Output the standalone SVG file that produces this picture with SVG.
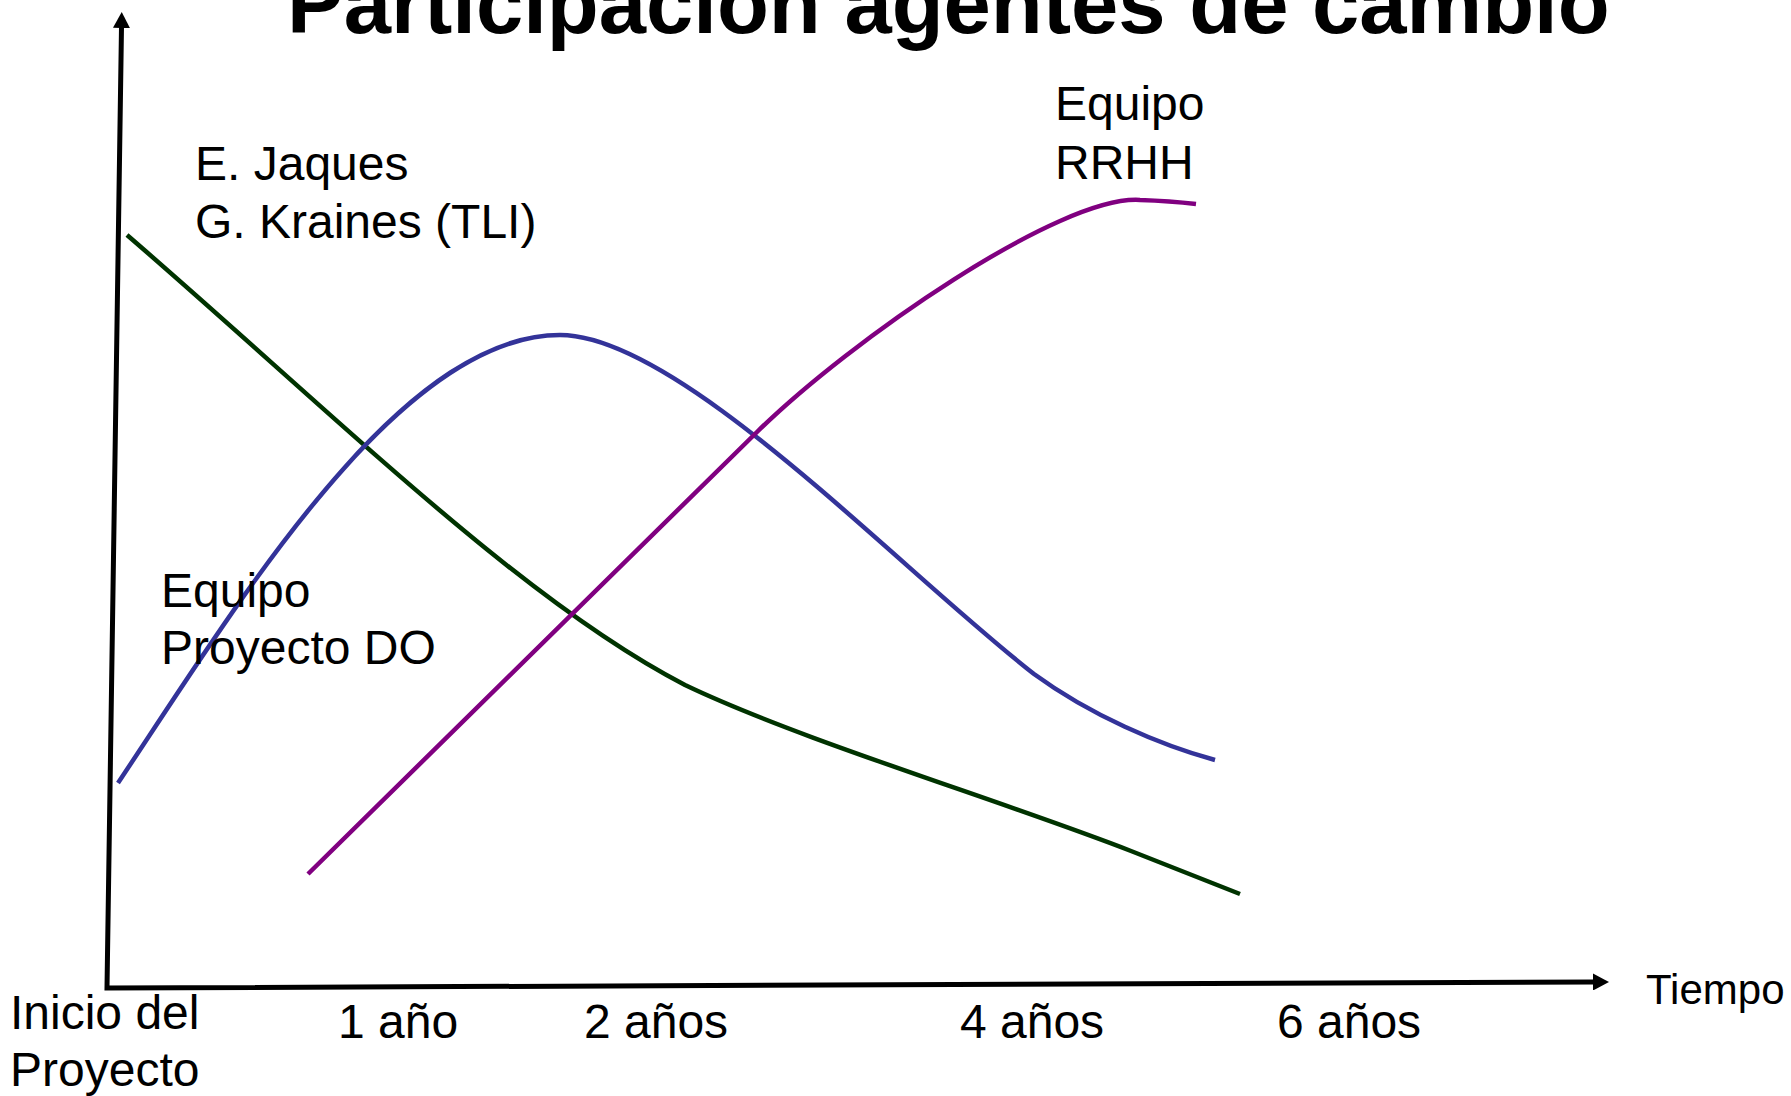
<svg xmlns="http://www.w3.org/2000/svg" width="1791" height="1096" viewBox="0 0 1791 1096">
  <style>
    text { font-family: "Liberation Sans", Arial, sans-serif; fill: #000; }
    .title { font-size: 85px; font-weight: bold; }
    .lbl { font-size: 48px; }
    .small { font-size: 42px; }
    .axis { fill: none; stroke: #000; stroke-width: 5; stroke-linejoin: miter; }
    .curve { fill: none; stroke-width: 4.5; stroke-linecap: butt; }
  </style>
  <defs>
    <marker id="arrow" viewBox="0 0 16 17" refX="1" refY="8.5" markerWidth="16" markerHeight="17" markerUnits="userSpaceOnUse" orient="auto-start-reverse">
      <path d="M0,0 L16,8.5 L0,17 z" fill="#000"/>
    </marker>
  </defs>
  <rect width="1791" height="1096" fill="#fff"/>

  <g id="title">
    <text class="title" x="287" y="33">Participación agentes de cambio</text>
  </g>

  <g id="axes">
    <path class="axis" d="M121.5,27 L107,988 L1594,982" marker-start="url(#arrow)" marker-end="url(#arrow)"/>
  </g>

  <g id="connectors">
    <path id="curve-tli" class="curve" stroke="#003300" d="M127,235 C330,410 520,600 685,685 C800,740 1000,800 1131,851 L1240,894"/>
    <path id="curve-do" class="curve" stroke="#333399" d="M118,783 C240,600 400,335 560,335 C680,335 900,570 1034,674 C1090,715 1160,745 1215,760"/>
    <path id="curve-rrhh" class="curve" stroke="#800080" d="M308,874 L757,432 C850,340.5 1060,195 1140,200 Q1170,201 1196,204"/>
  </g>

  <g id="label-tli">
    <text class="lbl" x="195" y="180">E. Jaques</text>
    <text class="lbl" x="195" y="238">G. Kraines (TLI)</text>
  </g>
  <g id="label-do">
    <text class="lbl" x="161" y="607">Equipo</text>
    <text class="lbl" x="161" y="664">Proyecto DO</text>
  </g>
  <g id="label-rrhh">
    <text class="lbl" x="1055" y="120">Equipo</text>
    <text class="lbl" x="1055" y="179">RRHH</text>
  </g>

  <g id="x-labels">
    <text class="lbl" x="10" y="1029">Inicio del</text>
    <text class="lbl" x="10" y="1086">Proyecto</text>
    <text class="lbl" x="338" y="1038">1 año</text>
    <text class="lbl" x="584" y="1038">2 años</text>
    <text class="lbl" x="960" y="1038">4 años</text>
    <text class="lbl" x="1277" y="1038">6 años</text>
    <text class="small" x="1646" y="1004">Tiempo</text>
  </g>
</svg>
